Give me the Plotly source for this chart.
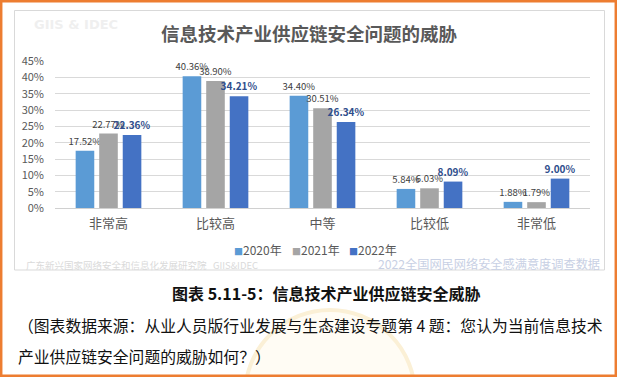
import plotly.graph_objects as go

categories = ["非常高", "比较高", "中等", "比较低", "非常低"]
series_names = ["2020年", "2021年", "2022年"]
values_2020 = [17.52, 40.36, 34.40, 5.84, 1.88]
values_2021 = [22.77, 38.90, 30.51, 6.03, 1.79]
values_2022 = [22.36, 34.21, 26.34, 8.09, 9.00]
y_ticks = [0, 5, 10, 15, 20, 25, 30, 35, 40, 45]
y_tick_labels = ["0%", "5%", "10%", "15%", "20%", "25%", "30%", "35%", "40%", "45%"]

title_text = "信息技术产业供应链安全问题的威胁"
caption_1 = "图表 5.11-5：信息技术产业供应链安全威胁"
caption_2 = "（图表数据来源：从业人员版行业发展与生态建设专题第 4 题：您认为当前信息技术"
caption_3 = "产业供应链安全问题的威胁如何？）"
wm_top = "GIIS & IDEC"
wm_left = "广东新兴国家网络安全和信息化发展研究院   GIIS&IDEC"
wm_right = "2022全国网民网络安全感满意度调查数据"

colors = ["#5B9BD5", "#A5A5A5", "#4472C4"]
FONT = "Noto Sans CJK SC"
label_fonts = [
    dict(size=9.5, color="#404040"),
    dict(size=9.5, color="#404040"),
    dict(size=10, color="#2F4E8C", weight="bold"),
]

W, H = 617, 377
L, R, T, B = 55, 590, 61, 208


def px(x):
    return (x - L) / (R - L)


def py(y):
    return (B - y) / (B - T)


fig = go.Figure()
for name, vals, col, lf in zip(series_names, [values_2020, values_2021, values_2022], colors, label_fonts):
    fig.add_trace(go.Bar(
        x=categories, y=vals, name=name, marker=dict(color=col, line=dict(width=0)),
        text=[f"{v:.2f}%" for v in vals], textposition="outside",
        textfont=dict(family=FONT, **lf), constraintext="none", cliponaxis=False,
        showlegend=False,
    ))

shapes = [
    # faint seal watermark at the bottom
    dict(type="circle", xref="paper", yref="paper", x0=px(245), x1=px(415), y0=py(480), y1=py(310),
         line=dict(color="#FBF0D6", width=4), fillcolor="#FFFCF4", layer="below"),
    dict(type="rect", xref="paper", yref="paper", x0=px(1.2), x1=px(615.8), y0=py(375.8), y1=py(1.2),
         line=dict(color="#ED7D31", width=2.5), layer="above"),
    dict(type="rect", xref="paper", yref="paper", x0=px(14.5), x1=px(604.5), y0=py(270), y1=py(10.5),
         line=dict(color="#D9D9D9", width=1), fillcolor="white", layer="below"),
]


def ann(text, x, y, size, color, xanchor="center", family=FONT):
    return dict(text=text, x=px(x), y=py(y), xref="paper", yref="paper", xanchor=xanchor,
                yanchor="middle", showarrow=False, font=dict(family=family, size=size, color=color))


annotations = [
    ann(f"<b>{title_text}</b>", 309, 33, 18.5, "#595959"),
    ann(f"<b>{wm_top}</b>", 32, 25, 13, "#EFEFEF", "left", "DejaVu Sans"),
    ann(wm_left, 24, 265, 9.5, "#DADADA", "left"),
    ann(wm_right, 602, 264, 12.2, "#C8D0E4", "right"),
    ann(f"<b>{caption_1}</b>", 326, 293, 16, "#111111"),
    ann(caption_2, 16, 325, 15.8, "#111111", "left"),
    ann(caption_3, 16, 356, 15.8, "#111111", "left"),
]

legend_x = [232, 290, 347]
for name, col, lx in zip(series_names, colors, legend_x):
    annotations.append(ann(
        f"<span style='color:{col};font-size:9px'>■</span>{name}", lx, 250, 12, "#595959", "left"))

fig.update_layout(
    width=W, height=H, margin=dict(l=L, r=W - R, t=T, b=H - B),
    paper_bgcolor="white", plot_bgcolor="white",
    barmode="group", bargap=0.34, bargroupgap=0.21,
    font=dict(family=FONT, color="#595959"),
    shapes=shapes, annotations=annotations, showlegend=False,
    xaxis=dict(showgrid=False, showline=False, ticks="", tickfont=dict(size=13, color="#595959"),
               ticklabelstandoff=6),
    yaxis=dict(range=[0, 45], tickmode="array", tickvals=y_ticks, ticktext=y_tick_labels,
               showgrid=True, gridcolor="#D9D9D9", gridwidth=1,
               zeroline=True, zerolinecolor="#D0D0D0", zerolinewidth=1,
               tickfont=dict(size=11, color="#595959"), ticklabelstandoff=10, showline=False),
)

fig.write_html("out.html", config={"displayModeBar": False},
               post_script="document.body.style.margin='0';document.body.style.overflow='hidden';")
